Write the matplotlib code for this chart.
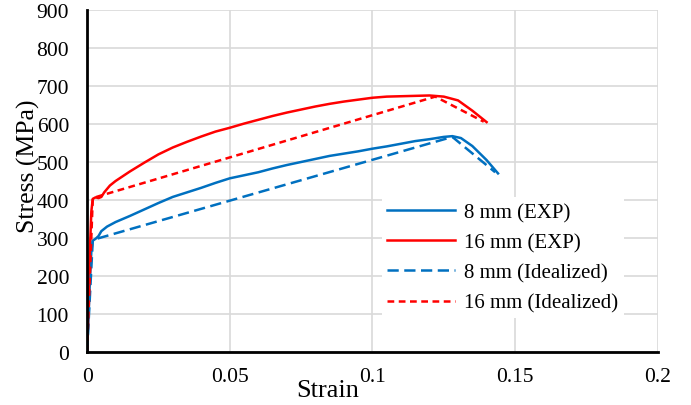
import matplotlib
matplotlib.use("Agg")
import matplotlib.pyplot as plt

# Data
strain_8_exp = [0.0, 0.0005, 0.001, 0.0015, 0.002, 0.003, 0.004, 0.005, 0.007, 0.01, 0.015, 0.02, 0.025, 0.03,
                0.035, 0.04, 0.045, 0.05, 0.055, 0.06, 0.065, 0.07, 0.075, 0.08, 0.085, 0.09, 0.095, 0.1,
                0.105, 0.11, 0.115, 0.12, 0.125, 0.128, 0.131, 0.135, 0.14, 0.144]
stress_8_exp = [0, 90, 190, 265, 293, 298, 305, 318, 330, 342, 358, 375, 392, 408,
                420, 432, 445, 457, 465, 473, 483, 492, 500, 508, 516, 522, 528, 535,
                541, 548, 555, 560, 566, 568, 563, 542, 505, 470]

strain_16_exp = [0.0, 0.0005, 0.001, 0.0015, 0.002, 0.003, 0.004, 0.005, 0.006, 0.008, 0.01, 0.015, 0.02, 0.025,
                 0.03, 0.035, 0.04, 0.045, 0.05, 0.055, 0.06, 0.065, 0.07, 0.075, 0.08, 0.085, 0.09,
                 0.095, 0.1, 0.105, 0.11, 0.115, 0.12, 0.125, 0.13, 0.135, 0.14]
stress_16_exp = [0, 130, 270, 370, 403, 407, 405, 408, 420, 438, 450, 475, 498, 520,
                 538, 553, 567, 580, 590, 601, 611, 621, 630, 638, 646, 653, 659,
                 664, 669, 672, 673, 674, 675, 672, 662, 635, 605]

strain_8_ideal = [0.0, 0.002, 0.128, 0.143]
stress_8_ideal = [0, 295, 566, 473]

strain_16_ideal = [0.0, 0.002, 0.005, 0.122, 0.139]
stress_16_ideal = [0, 405, 412, 672, 606]

labels = ["8 mm (EXP)", "16 mm (EXP)", "8 mm (Idealized)", "16 mm (Idealized)"]
x_ticks = [0, 0.05, 0.1, 0.15, 0.2]
x_tick_labels = ["0", "0.05", "0.1", "0.15", "0.2"]
y_ticks = list(range(0, 901, 100))

plt.rcParams['font.family'] = ['Liberation Serif', 'DejaVu Serif']

fig = plt.figure(figsize=(6.91, 4.06), dpi=100)
ax = fig.add_axes([0.126, 0.1305, 0.826, 0.8425])

blue = "#0070C0"
red = "#FF0000"
lw = 1.8
ax.plot(strain_8_exp, stress_8_exp, color=blue, lw=lw, label=labels[0])
ax.plot(strain_16_exp, stress_16_exp, color=red, lw=lw, label=labels[1])
ax.plot(strain_8_ideal, stress_8_ideal, color=blue, lw=lw, dashes=(4.5, 2.2), label=labels[2])
ax.plot(strain_16_ideal, stress_16_ideal, color=red, lw=lw, dashes=(2.7, 1.8), label=labels[3])

ax.set_xlim(0, 0.2)
ax.set_ylim(0, 900)
ax.set_xticks(x_ticks)
ax.set_xticklabels(x_tick_labels)
ax.set_yticks(y_ticks)
ax.grid(True, color="#d9d9d9", lw=1.2)
ax.set_axisbelow(True)
for s in ["top", "right"]:
    ax.spines[s].set_visible(False)
for s in ["left", "bottom"]:
    ax.spines[s].set_linewidth(2)
    ax.spines[s].set_color("black")
ax.tick_params(length=0, labelsize=15.5)
ax.tick_params(axis="x", pad=11)
ax.tick_params(axis="y", pad=13)
ax.set_xlabel("Strain", fontsize=19)
ax.set_ylabel("Stress (MPa)", fontsize=18.5)
ax.xaxis.set_label_coords(0.422, -0.079)
ax.yaxis.set_label_coords(-0.082, 0.547)

leg = ax.legend(loc="upper left", bbox_to_anchor=(0.517, 0.452), fontsize=15, frameon=True,
                handlelength=3.27, handletextpad=0.43, labelspacing=0.51, borderpad=0.25,
                borderaxespad=0)
leg.get_frame().set_edgecolor("none")
leg.get_frame().set_facecolor("white")
leg.get_frame().set_alpha(1)
leg.get_frame().set_boxstyle("square", pad=0)

fig.savefig("out.png", dpi=100)
